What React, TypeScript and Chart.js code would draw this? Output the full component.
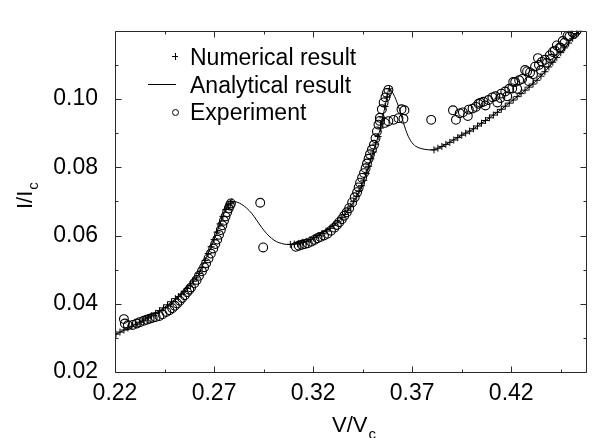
import React, { useEffect, useRef } from "react";
import { Chart, registerables } from "chart.js";

Chart.register(...registerables);

const FONT = "'Liberation Sans', Arial, Helvetica, sans-serif";

// ---- Numerical result (+ markers) ----
const numericalV = [
  0.2205, 0.2225, 0.2245, 0.2265, 0.2285, 0.2305, 0.2325, 0.2345, 0.2365, 0.2385,
  0.2405, 0.2425, 0.2445, 0.2465, 0.2485, 0.2505, 0.252, 0.2535, 0.255, 0.2565,
  0.258, 0.2595, 0.261, 0.2625, 0.264, 0.2655, 0.267, 0.2685, 0.27, 0.2715,
  0.273, 0.2745, 0.276, 0.2772, 0.2783, 0.279,
  0.3085, 0.3105, 0.3125, 0.3145, 0.3165, 0.3185, 0.3205, 0.3225, 0.3245, 0.3265,
  0.3285, 0.3305, 0.3325, 0.3345, 0.336, 0.3375, 0.339, 0.3405, 0.342, 0.3432,
  0.3444, 0.3456, 0.3468, 0.348, 0.3492, 0.3504, 0.3516, 0.3528, 0.354, 0.3552,
  0.3563, 0.3574, 0.3585,
  0.381, 0.383, 0.385, 0.387, 0.389, 0.391, 0.393, 0.395, 0.397, 0.399,
  0.401, 0.403, 0.405, 0.407, 0.409, 0.411, 0.413, 0.415, 0.417, 0.419,
  0.421, 0.423, 0.425, 0.427, 0.429, 0.431, 0.433, 0.435, 0.437, 0.439,
  0.441, 0.443, 0.445, 0.447, 0.449, 0.451, 0.453, 0.455,
];
const numericalI = [
  0.0311, 0.0317, 0.0323, 0.0329, 0.0334, 0.034, 0.0346, 0.0352, 0.0358, 0.0365,
  0.0372, 0.038, 0.0388, 0.0397, 0.0406, 0.0415, 0.0421, 0.0428, 0.0436, 0.0445,
  0.0455, 0.0466, 0.0476, 0.0489, 0.0506, 0.0527, 0.0547, 0.0567, 0.0588, 0.061,
  0.0634, 0.0656, 0.0676, 0.0687, 0.0695, 0.0699,
  0.0574, 0.0575, 0.0577, 0.058, 0.0583, 0.0588, 0.0594, 0.06, 0.0606, 0.0613,
  0.0621, 0.063, 0.064, 0.0652, 0.0662, 0.0674, 0.0686, 0.07, 0.0715, 0.0731,
  0.0746, 0.0762, 0.0782, 0.0803, 0.0825, 0.0845, 0.0868, 0.089, 0.0915, 0.0945,
  0.0978, 0.1006, 0.103,
  0.0851, 0.0856, 0.0861, 0.0867, 0.0873, 0.088, 0.0887, 0.0894, 0.09, 0.0906,
  0.0913, 0.0921, 0.0929, 0.0937, 0.0945, 0.0953, 0.0961, 0.097, 0.0979, 0.0988,
  0.0997, 0.1007, 0.1016, 0.1026, 0.1035, 0.1044, 0.1055, 0.1067, 0.108, 0.1094,
  0.1108, 0.1122, 0.1136, 0.115, 0.1164, 0.1178, 0.1192, 0.1206,
];

// ---- Analytical result (line) ----
const analyticalV = [
  0.22, 0.225, 0.23, 0.235, 0.24, 0.245, 0.25, 0.254, 0.258, 0.262,
  0.265, 0.268, 0.271, 0.274, 0.2765, 0.279, 0.2815, 0.284, 0.2865, 0.289,
  0.2915, 0.294, 0.2965, 0.299, 0.3015, 0.304, 0.3065, 0.309, 0.3125, 0.3165,
  0.3205, 0.3245, 0.3285, 0.3325, 0.336, 0.339, 0.342, 0.3444, 0.3468, 0.3492,
  0.3516, 0.354, 0.3563, 0.3585, 0.3605, 0.363, 0.3655, 0.368, 0.3705, 0.373,
  0.376, 0.379, 0.381, 0.385, 0.39, 0.395, 0.4, 0.405, 0.41, 0.415,
  0.42, 0.425, 0.43, 0.435, 0.44, 0.445, 0.45, 0.455, 0.458,
];
const analyticalI = [
  0.0309, 0.0324, 0.0338, 0.0353, 0.037, 0.039, 0.0412, 0.043, 0.0455, 0.0484,
  0.0522, 0.056, 0.0603, 0.065, 0.0682, 0.0699, 0.0698, 0.0691, 0.068, 0.0665,
  0.0645, 0.0624, 0.0606, 0.0592, 0.0582, 0.0577, 0.0574, 0.0574, 0.0577, 0.0583,
  0.0594, 0.0606, 0.0621, 0.064, 0.0662, 0.0686, 0.0715, 0.0746, 0.0782, 0.0825,
  0.0868, 0.0915, 0.0978, 0.103, 0.1015, 0.098, 0.0932, 0.0891, 0.0868, 0.0858,
  0.0853, 0.0851, 0.0851, 0.0861, 0.0877, 0.0894, 0.0909, 0.0929, 0.0949, 0.097,
  0.0993, 0.1016, 0.104, 0.1067, 0.1101, 0.1136, 0.1171, 0.1206, 0.1228,
];

// ---- Experiment (open circles) ----
const experimentV = [
  0.2245, 0.225, 0.2265, 0.229, 0.231, 0.2325, 0.2345, 0.236, 0.2375, 0.239,
  0.2405, 0.2424, 0.244, 0.2459, 0.2475, 0.2489, 0.2502, 0.2514, 0.2527, 0.2539,
  0.2552, 0.2564, 0.2575, 0.2584, 0.26, 0.2612, 0.2624, 0.2639, 0.265, 0.266,
  0.2672, 0.2684, 0.2696, 0.2706, 0.2716, 0.2725, 0.2734, 0.2742, 0.275, 0.2758,
  0.2766, 0.2774, 0.278, 0.2785, 0.2933, 0.2948,
  0.3113, 0.3128, 0.3143, 0.3158, 0.3173, 0.319, 0.3207, 0.3222, 0.3237, 0.3255,
  0.3272, 0.329, 0.3307, 0.332, 0.3332, 0.3345, 0.3357, 0.337, 0.3382, 0.3397,
  0.341, 0.3422, 0.343, 0.3437, 0.3447, 0.3457, 0.3465, 0.3472, 0.348, 0.3487,
  0.3497, 0.3507, 0.3515, 0.3522, 0.353, 0.3537, 0.3547, 0.3556, 0.3565, 0.3572,
  0.358, 0.3537, 0.3562, 0.358, 0.3606, 0.3631, 0.3656, 0.3661, 0.3646, 0.3796,
  0.3906, 0.3921, 0.394, 0.3956, 0.3981, 0.3986, 0.4005, 0.4021, 0.4035, 0.4045,
  0.406, 0.407, 0.4085, 0.4105, 0.412, 0.4145, 0.415, 0.417, 0.419, 0.4205,
  0.421, 0.422, 0.424, 0.4255, 0.427, 0.428, 0.4295, 0.431, 0.432, 0.4335,
  0.434, 0.4355, 0.437, 0.438, 0.4395, 0.441, 0.442, 0.443, 0.4445, 0.446,
  0.4469, 0.4484, 0.4494, 0.451, 0.4519, 0.453,
  0.413, 0.418, 0.423, 0.429, 0.435, 0.44, 0.445,
];
const experimentI = [
  0.0355, 0.0342, 0.0337, 0.0338, 0.0342, 0.0346, 0.035, 0.0353, 0.0356, 0.0359,
  0.0361, 0.0364, 0.0369, 0.0376, 0.0381, 0.0387, 0.0394, 0.0401, 0.0409, 0.0417,
  0.0425, 0.0434, 0.0441, 0.0448, 0.046, 0.047, 0.0482, 0.0495, 0.0507, 0.0519,
  0.0533, 0.0547, 0.0562, 0.0575, 0.0588, 0.0602, 0.0616, 0.063, 0.0643, 0.0656,
  0.0668, 0.0679, 0.0688, 0.0694, 0.0696, 0.0565,
  0.0567, 0.057, 0.0573, 0.0575, 0.0577, 0.0582, 0.0587, 0.0592, 0.0596, 0.06,
  0.0605, 0.0614, 0.0623, 0.0631, 0.0639, 0.0648, 0.0658, 0.0668, 0.068, 0.0697,
  0.0712, 0.0727, 0.0741, 0.0755, 0.0769, 0.0783, 0.0797, 0.0811, 0.0825, 0.0838,
  0.0852, 0.0866, 0.0885, 0.0905, 0.0925, 0.0945, 0.097, 0.099, 0.1005, 0.1018,
  0.1027, 0.0936, 0.093, 0.0935, 0.0939, 0.0944, 0.0942, 0.0967, 0.097, 0.0939,
  0.0967, 0.0939, 0.0958, 0.0961, 0.095, 0.0969, 0.0972, 0.0977, 0.0986, 0.0989,
  0.0992, 0.0981, 0.0997, 0.1005, 0.1008, 0.1003, 0.1016, 0.1022, 0.103, 0.1031,
  0.105, 0.105, 0.1055, 0.1059, 0.1085, 0.1081, 0.1078, 0.1073, 0.1095, 0.112,
  0.11, 0.1109, 0.1115, 0.1106, 0.1128, 0.1138, 0.1142, 0.1157, 0.1151, 0.117,
  0.1165, 0.1185, 0.1184, 0.1195, 0.1192, 0.12,
  0.099, 0.1008, 0.103, 0.1052, 0.1085, 0.1118, 0.115,
];

// ---- Axes ----
const xMajorTicks = [0.22, 0.27, 0.32, 0.37, 0.42];
const xMinorTicks = [0.245, 0.295, 0.345, 0.395, 0.445];
const yMajorTicks = [0.02, 0.04, 0.06, 0.08, 0.1];
const yMinorTicks = [0.03, 0.05, 0.07, 0.09, 0.11];
const xRange = [0.22, 0.458];
const yRange = [0.02, 0.12];

const legendLabels = ["Numerical result", "Analytical result", "Experiment"];

const pts = (xs: number[], ys: number[]) => xs.map((x, i) => ({ x, y: ys[i] }));

const framePlugin = {
  id: "frameTicks",
  afterDraw(chart: any) {
    const { ctx, chartArea } = chart;
    const { left, right, top, bottom } = chartArea;
    const xs = chart.scales.x;
    const ys = chart.scales.y;
    ctx.save();
    ctx.strokeStyle = "#2a2a2a";
    ctx.lineWidth = 1;
    const L = Math.round(left) + 0.5;
    const R = Math.round(right) - 0.5;
    const T = Math.round(top) + 0.5;
    const B = Math.round(bottom) + 0.5;
    ctx.beginPath();
    ctx.moveTo(L, T);
    ctx.lineTo(R, T);
    ctx.lineTo(R, B);
    ctx.lineTo(L, B);
    ctx.closePath();
    ctx.stroke();
    ctx.beginPath();
    const xt = (v: number, len: number) => {
      const p = Math.round(xs.getPixelForValue(v)) + 0.5;
      ctx.moveTo(p, B);
      ctx.lineTo(p, B - len);
      ctx.moveTo(p, T);
      ctx.lineTo(p, T + len);
    };
    const yt = (v: number, len: number) => {
      const p = Math.round(ys.getPixelForValue(v)) + 0.5;
      ctx.moveTo(L, p);
      ctx.lineTo(L + len, p);
      ctx.moveTo(R, p);
      ctx.lineTo(R - len, p);
    };
    xMajorTicks.forEach((v) => xt(v, 6));
    xMinorTicks.forEach((v) => xt(v, 3));
    yMajorTicks.forEach((v) => yt(v, 6));
    yMinorTicks.forEach((v) => yt(v, 3));
    ctx.stroke();

    // Legend
    ctx.fillStyle = "#000";
    ctx.strokeStyle = "#000";
    ctx.font = `23px ${FONT}`;
    ctx.textBaseline = "alphabetic";
    ctx.textAlign = "left";
    const rows = [65, 92.5, 120];
    const textX = 190;
    legendLabels.forEach((t, i) => ctx.fillText(t, textX, rows[i]));
    ctx.beginPath();
    ctx.moveTo(172, 56.5);
    ctx.lineTo(178, 56.5);
    ctx.moveTo(175.5, 53);
    ctx.lineTo(175.5, 60);
    ctx.moveTo(148, 84.5);
    ctx.lineTo(176, 84.5);
    ctx.stroke();
    ctx.beginPath();
    ctx.arc(175.5, 112.5, 3, 0, Math.PI * 2);
    ctx.stroke();

    // Axis titles
    ctx.font = `22px ${FONT}`;
    const xt1 = "V/V";
    ctx.fillText(xt1, 332, 432);
    const w1 = ctx.measureText(xt1).width;
    ctx.font = `15px ${FONT}`;
    ctx.fillText("c", 332 + w1 + 1, 439);

    ctx.save();
    ctx.translate(32, 209);
    ctx.rotate(-Math.PI / 2);
    ctx.font = `22px ${FONT}`;
    const yt1 = "I/I";
    ctx.fillText(yt1, 0, 0);
    const w2 = ctx.measureText(yt1).width;
    ctx.font = `15px ${FONT}`;
    ctx.fillText("c", w2 + 1, 6);
    ctx.restore();

    ctx.restore();
  },
};

export default function App() {
  const ref = useRef<HTMLCanvasElement | null>(null);
  useEffect(() => {
    if (!ref.current) return;
    const chart = new Chart(ref.current, {
      type: "scatter",
      data: {
        datasets: [
          {
            label: "Numerical result",
            data: pts(numericalV, numericalI),
            pointStyle: "cross",
            pointRadius: 3.5,
            borderColor: "#000",
            borderWidth: 1,
            showLine: false,
            order: 1,
          },
          {
            label: "Analytical result",
            data: pts(analyticalV, analyticalI),
            showLine: true,
            pointRadius: 0,
            borderColor: "#000",
            borderWidth: 1,
            cubicInterpolationMode: "monotone",
            fill: false,
            order: 2,
          },
          {
            label: "Experiment",
            data: pts(experimentV, experimentI),
            pointStyle: "circle",
            pointRadius: 4.4,
            borderColor: "#000",
            backgroundColor: "rgba(0,0,0,0)",
            borderWidth: 1.1,
            showLine: false,
            order: 3,
          },
        ],
      },
      options: {
        animation: false,
        responsive: false,
        devicePixelRatio: 1,
        layout: { padding: { top: 14, right: 0, left: 0, bottom: 0 } },
        plugins: { legend: { display: false }, tooltip: { enabled: false } },
        scales: {
          x: {
            type: "linear",
            min: xRange[0],
            max: xRange[1],
            afterBuildTicks: (s: any) => {
              s.ticks = xMajorTicks.map((v) => ({ value: v }));
            },
            afterFit: (s: any) => {
              s.height = 66;
            },
            ticks: {
              autoSkip: false,
              maxRotation: 0,
              padding: 8,
              color: "#000",
              font: { family: FONT, size: 23 },
              callback: (v: any) => Number(v).toFixed(2),
            },
            grid: { display: false, drawTicks: false },
            border: { display: false },
          },
          y: {
            type: "linear",
            min: yRange[0],
            max: yRange[1],
            afterBuildTicks: (s: any) => {
              s.ticks = yMajorTicks.map((v) => ({ value: v }));
            },
            afterFit: (s: any) => {
              s.width = 115;
            },
            ticks: {
              autoSkip: false,
              padding: 17,
              color: "#000",
              font: { family: FONT, size: 23 },
              callback: (v: any) => Number(v).toFixed(2),
            },
            grid: { display: false, drawTicks: false },
            border: { display: false },
          },
        },
      },
      plugins: [framePlugin],
    });
    return () => chart.destroy();
  }, []);
  return (
    <div style={{ position: "fixed", left: 0, top: 0, width: 592, height: 438, background: "#fff" }}>
      <canvas ref={ref} width={592} height={438} />
    </div>
  );
}
